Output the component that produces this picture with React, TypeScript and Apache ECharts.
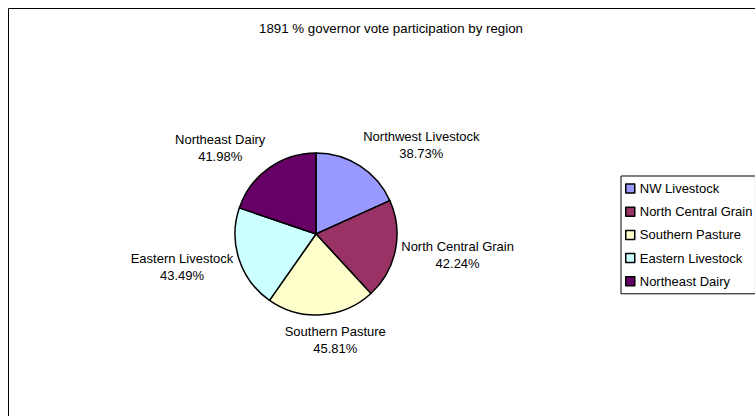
import React, { useEffect, useRef } from "react";
import * as echarts from "echarts";

const titleText = "1891 % governor vote participation by region";
const legendNames = ["NW Livestock", "North Central Grain", "Southern Pasture", "Eastern Livestock", "Northeast Dairy"];
const labelNames = ["Northwest Livestock", "North Central Grain", "Southern Pasture", "Eastern Livestock", "Northeast Dairy"];
const values = [38.73, 42.24, 45.81, 43.49, 41.98];
const colors = ["#9999FF", "#993366", "#FFFFCC", "#CCFFFF", "#660066"];

const FONT = "'Liberation Sans', Arial, sans-serif";
const CX = 316;
const CY = 234;
const R = 81;

// mid-angle of every slice (degrees, clockwise from 12 o'clock), derived from the data
const total = values.reduce((s, v) => s + v, 0);
const midAngles: number[] = [];
{
  let cum = 0;
  for (const v of values) {
    midAngles.push(((cum + v / 2) / total) * 360);
    cum += v;
  }
}

export default function App() {
  const ref = useRef<HTMLDivElement>(null);
  useEffect(() => {
    if (!ref.current) return;
    const chart = echarts.init(ref.current, undefined, { renderer: "svg" });
    chart.setOption({
      animation: false,
      backgroundColor: "#ffffff",
      graphic: [
        {
          type: "rect",
          shape: { x: 8.5, y: 8.5, width: 780, height: 440 },
          style: { fill: "none", stroke: "#000000", lineWidth: 1 },
          silent: true,
        },
        {
          type: "text",
          x: 391,
          y: 28,
          style: {
            text: titleText,
            fill: "#000000",
            font: `13.3px ${FONT}`,
            align: "center",
            verticalAlign: "middle",
          },
        },
      ],
      legend: {
        orient: "vertical",
        left: 621,
        top: 176,
        padding: [5, 3, 5, 4],
        borderColor: "#000000",
        borderWidth: 1,
        itemWidth: 9,
        itemHeight: 9,
        itemGap: 8.2,
        icon: "rect",
        data: legendNames,
        textStyle: { fontFamily: FONT, fontSize: 13, color: "#000000", lineHeight: 15 },
        itemStyle: { borderColor: "#000000", borderWidth: 1.5 },
      },
      series: [
        {
          type: "pie",
          center: [CX, CY],
          radius: R,
          startAngle: 90,
          clockwise: true,
          avoidLabelOverlap: false,
          itemStyle: { borderColor: "#000000", borderWidth: 1.5 },
          label: {
            show: true,
            position: "outside",
            fontFamily: FONT,
            fontSize: 13,
            lineHeight: 17,
            color: "#000000",
            formatter: (p: any) => `${labelNames[p.dataIndex]}\n${values[p.dataIndex].toFixed(2)}%`,
          },
          labelLine: { show: false, length: 0, length2: 0 },
          labelLayout: (p: any) => {
            const a = (midAngles[p.dataIndex] * Math.PI) / 180;
            const dx = Math.sin(a);
            const dy = -Math.cos(a);
            const w = p.labelRect.width;
            const h = p.labelRect.height;
            const gap = 6;
            const f = Math.max(-1, Math.min(1, dx * 4));
            return {
              x: CX + (R + gap) * dx + (f * w) / 2,
              y: CY + (R + gap) * dy + (dy * (h + 4)) / 2,
              align: "center",
              verticalAlign: "middle",
            };
          },
          emphasis: { disabled: true },
          data: legendNames.map((n, i) => ({ name: n, value: values[i], itemStyle: { color: colors[i] } })),
        },
      ],
    });
    return () => chart.dispose();
  }, []);
  return <div ref={ref} style={{ position: "fixed", left: 0, top: 0, width: 755, height: 416 }} />;
}
